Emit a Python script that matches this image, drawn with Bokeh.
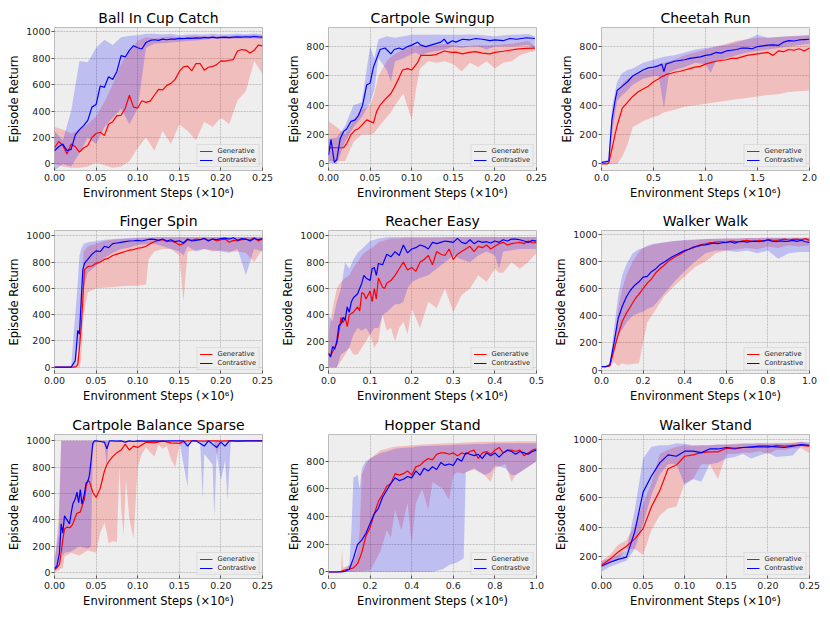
from bokeh.plotting import figure
from bokeh.layouts import gridplot
from bokeh.models import Range1d, FixedTicker, PrintfTickFormatter, Legend, LegendItem
from bokeh.embed import file_html
from bokeh.resources import INLINE

FONT = "DejaVu Sans"
GEN_COLOR = "#ff0000"
CON_COLOR = "#0000ff"
XLABEL = "Environment Steps (\u00d710\u2076)"
YLABEL = "Episode Return"

# ---------------- Ball In Cup Catch ----------------
BIC_X = [0.0, 0.005, 0.01, 0.015, 0.02, 0.025, 0.03, 0.035, 0.04, 0.045, 0.05, 0.055, 0.06, 0.065, 0.07,
         0.075, 0.08, 0.085, 0.09, 0.095, 0.1, 0.105, 0.11, 0.115, 0.12, 0.125, 0.13, 0.135, 0.14, 0.145,
         0.15, 0.155, 0.16, 0.165, 0.17, 0.175, 0.18, 0.185, 0.19, 0.195, 0.2, 0.205, 0.21, 0.215, 0.22,
         0.225, 0.23, 0.235, 0.24, 0.245, 0.25]
BIC_CON = [100, 130, 150, 100, 110, 220, 260, 290, 330, 430, 450, 590, 580, 660, 640, 700, 820, 810, 860, 895,
           880, 870, 920, 935, 940, 935, 945, 940, 945, 945, 950, 948, 952, 950, 955, 953, 958, 955, 960, 955,
           958, 960, 957, 960, 962, 960, 963, 960, 965, 962, 960]
BIC_GEN = [120, 170, 140, 75, 150, 130, 90, 120, 140, 200, 230, 240, 214, 300, 320, 365, 368, 420, 520, 430,
           423, 478, 466, 475, 520, 565, 560, 595, 610, 640, 700, 735, 740, 705, 760, 760, 710, 732, 738, 752,
           780, 778, 785, 790, 855, 866, 862, 840, 860, 900, 894]
BIC_BX = [0.0, 0.01, 0.02, 0.03, 0.04, 0.05, 0.06, 0.07, 0.08, 0.09, 0.1, 0.11, 0.12, 0.13, 0.14, 0.15, 0.16,
          0.17, 0.18, 0.19, 0.2, 0.21, 0.22, 0.23, 0.24, 0.25]
BIC_GEN_LO = [0, -20, -30, -30, -20, 10, -10, -30, -20, 20, 120, 200, 100, 250, 150, 300, 250, 180, 320, 280,
              350, 300, 480, 550, 780, 680]
BIC_GEN_HI = [280, 260, 230, 260, 300, 360, 470, 600, 760, 850, 930, 960, 950, 960, 965, 960, 965, 970, 965,
              970, 968, 970, 972, 975, 978, 970]
BIC_CON_LO = [-50, 0, -20, 80, 200, 150, 280, 350, 420, 300, 420, 880, 910, 915, 920, 925, 930, 935, 940, 945,
              945, 945, 950, 950, 950, 945]
BIC_CON_HI = [250, 180, 400, 780, 770, 880, 940, 900, 960, 970, 975, 985, 985, 980, 985, 975, 980, 982, 980,
              985, 980, 982, 985, 982, 988, 982]

# ---------------- Cartpole Swingup ----------------
CSU_X = [0.0, 0.003, 0.007, 0.01, 0.014, 0.018, 0.022, 0.027, 0.032, 0.036, 0.041, 0.046, 0.05, 0.054, 0.058,
         0.062, 0.068, 0.075, 0.079, 0.085, 0.089, 0.095, 0.1, 0.107, 0.111, 0.117, 0.123, 0.129, 0.135, 0.139,
         0.143, 0.149, 0.153, 0.161, 0.169, 0.177, 0.185, 0.194, 0.2, 0.21, 0.218, 0.226, 0.238, 0.248]
CSU_CON = [60, 165, 10, 30, 170, 220, 240, 290, 300, 330, 400, 540, 550, 660, 720, 780, 790, 750, 780, 790,
           780, 800, 810, 830, 810, 800, 810, 820, 830, 850, 820, 840, 830, 850, 845, 855, 850, 840, 845, 840,
           855, 850, 860, 855]
CSU_GEN = [110, 110, 110, 110, 110, 110, 140, 200, 230, 240, 270, 300, 290, 280, 360, 400, 440, 480, 520, 590,
           640, 650, 640, 690, 740, 740, 740, 745, 760, 770, 765, 760, 762, 750, 760, 765, 755, 750, 760, 768,
           775, 782, 788, 790]
CSU_BX = [0.0, 0.01, 0.02, 0.03, 0.04, 0.05, 0.055, 0.06, 0.07, 0.075, 0.08, 0.09, 0.1, 0.105, 0.11, 0.12,
          0.13, 0.14, 0.15, 0.16, 0.17, 0.18, 0.19, 0.2, 0.21, 0.22, 0.23, 0.24, 0.248]
CSU_GEN_LO = [20, 20, 20, 150, 200, 200, 210, 250, 320, 350, 400, 480, 300, 500, 650, 700, 690, 700, 680, 630,
              690, 660, 700, 650, 690, 700, 740, 760, 770]
CSU_GEN_HI = [290, 250, 200, 300, 370, 400, 480, 600, 700, 730, 750, 780, 800, 800, 810, 800, 810, 820, 810,
              800, 805, 810, 808, 810, 815, 820, 830, 840, 800]
CSU_CON_LO = [10, 0, 150, 250, 320, 420, 500, 720, 640, 560, 700, 720, 750, 760, 740, 760, 770, 780, 800, 790,
              800, 800, 780, 800, 800, 800, 805, 810, 780]
CSU_CON_HI = [170, 180, 260, 400, 420, 800, 720, 850, 870, 865, 860, 870, 880, 880, 880, 880, 882, 880, 880,
              880, 882, 880, 875, 870, 878, 880, 882, 885, 870]

# ---------------- Cheetah Run ----------------
CR_X = [0.0, 0.05, 0.07, 0.1, 0.13, 0.15, 0.2, 0.25, 0.3, 0.35, 0.4, 0.45, 0.5, 0.55, 0.58, 0.6, 0.62, 0.66,
        0.7, 0.75, 0.8, 0.85, 0.9, 0.95, 1.0, 1.05, 1.1, 1.15, 1.2, 1.25, 1.3, 1.35, 1.4, 1.45, 1.5, 1.55, 1.6,
        1.65, 1.7, 1.75, 1.8, 1.85, 1.9, 1.95, 2.0]
CR_CON = [10, 15, 20, 300, 430, 500, 530, 560, 600, 620, 640, 655, 660, 670, 680, 630, 680, 690, 700, 705, 710,
          720, 725, 730, 740, 745, 760, 755, 770, 775, 780, 790, 790, 785, 800, 805, 810, 812, 808, 830, 840,
          838, 845, 848, 850]
CR_GEN = [0, 0, 5, 100, 200, 260, 380, 420, 460, 490, 510, 530, 560, 580, 595, 600, 610, 615, 625, 630, 640,
          650, 660, 665, 680, 690, 700, 705, 710, 720, 720, 730, 740, 745, 750, 755, 760, 740, 770, 765, 780,
          775, 785, 770, 790]
CR_BX = [0.0, 0.07, 0.1, 0.15, 0.2, 0.25, 0.3, 0.4, 0.5, 0.55, 0.6, 0.65, 0.7, 0.8, 0.9, 1.0, 1.05, 1.1, 1.2,
         1.3, 1.4, 1.5, 1.6, 1.7, 1.8, 1.9, 2.0]
CR_GEN_LO = [0, 0, 0, 0, 50, 130, 250, 290, 320, 330, 350, 360, 370, 390, 400, 410, 415, 420, 430, 440, 450,
             460, 470, 475, 490, 495, 500]
CR_GEN_HI = [5, 10, 300, 480, 550, 580, 600, 630, 650, 670, 690, 700, 710, 740, 760, 780, 790, 800, 820, 840,
             850, 860, 860, 865, 870, 875, 880]
CR_CON_LO = [5, 10, 200, 430, 470, 500, 540, 580, 600, 600, 380, 620, 640, 660, 690, 680, 620, 700, 720, 740,
             760, 770, 780, 790, 800, 810, 820]
CR_CON_HI = [15, 30, 380, 560, 620, 640, 650, 690, 710, 720, 730, 735, 740, 760, 780, 790, 795, 800, 810, 830,
             850, 880, 860, 865, 870, 872, 875]

# ---------------- Finger Spin ----------------
FS_X = [0.0, 0.01, 0.02, 0.025, 0.028, 0.03, 0.032, 0.034, 0.036, 0.04, 0.045, 0.05, 0.055, 0.06, 0.065, 0.07,
        0.075, 0.08, 0.085, 0.09, 0.095, 0.1, 0.105, 0.11, 0.115, 0.12, 0.125, 0.13, 0.135, 0.14, 0.145, 0.15,
        0.155, 0.16, 0.165, 0.17, 0.175, 0.18, 0.185, 0.19, 0.195, 0.2, 0.205, 0.21, 0.215, 0.22, 0.225, 0.23,
        0.235, 0.24, 0.245, 0.25]
FS_CON = [0, 0, 0, 50, 280, 250, 500, 740, 790, 820, 860, 885, 880, 920, 910, 940, 945, 950, 955, 960, 962,
          965, 960, 968, 975, 972, 965, 975, 960, 970, 955, 962, 945, 975, 960, 965, 970, 980, 960, 975, 970,
          978, 982, 975, 985, 965, 978, 975, 960, 980, 970, 978]
FS_GEN = [0, 0, 0, 0, 20, 150, 300, 500, 740, 765, 770, 790, 800, 820, 830, 850, 860, 870, 880, 890, 895, 905,
          910, 920, 940, 955, 965, 970, 955, 960, 950, 930, 940, 970, 965, 975, 970, 980, 965, 975, 960, 970,
          975, 950, 965, 960, 970, 975, 968, 985, 960, 975]
FS_BX = [0.0, 0.02, 0.025, 0.028, 0.03, 0.032, 0.035, 0.04, 0.05, 0.06, 0.07, 0.08, 0.09, 0.1, 0.11, 0.113,
         0.12, 0.13, 0.14, 0.15, 0.155, 0.16, 0.17, 0.18, 0.19, 0.2, 0.21, 0.22, 0.23, 0.24, 0.25]
FS_GEN_LO = [0, 0, 0, 0, 0, 50, 400, 570, 600, 605, 610, 615, 620, 620, 630, 820, 880, 900, 900, 850, 500, 880,
             890, 900, 880, 890, 880, 880, 870, 800, 900]
FS_GEN_HI = [0, 0, 0, 100, 300, 500, 880, 920, 940, 960, 970, 975, 980, 985, 988, 988, 990, 990, 990, 990, 990,
             990, 990, 990, 990, 990, 990, 990, 990, 990, 990]
FS_CON_LO = [0, 0, 0, 150, 200, 400, 600, 720, 770, 830, 870, 900, 910, 930, 935, 935, 940, 920, 900, 880, 850,
             920, 880, 900, 890, 880, 870, 900, 700, 900, 880]
FS_CON_HI = [0, 0, 400, 650, 850, 900, 940, 950, 960, 970, 975, 980, 982, 985, 985, 985, 988, 988, 988, 988,
             988, 988, 988, 990, 990, 990, 990, 990, 990, 990, 990]

# ---------------- Reacher Easy ----------------
RE_X = [0.0, 0.005, 0.01, 0.015, 0.02, 0.025, 0.03, 0.035, 0.04, 0.045, 0.05, 0.055, 0.06, 0.07, 0.075, 0.08,
        0.085, 0.09, 0.1, 0.105, 0.11, 0.115, 0.12, 0.13, 0.135, 0.14, 0.15, 0.16, 0.17, 0.18, 0.19, 0.2, 0.21,
        0.22, 0.23, 0.24, 0.25, 0.26, 0.27, 0.28, 0.29, 0.3, 0.31, 0.32, 0.33, 0.34, 0.35, 0.36, 0.37, 0.38,
        0.39, 0.4, 0.41, 0.42, 0.43, 0.44, 0.45, 0.46, 0.47, 0.48, 0.49, 0.5]
RE_CON = [110, 80, 160, 140, 200, 320, 330, 380, 360, 460, 420, 500, 530, 560, 600, 640, 700, 680, 660, 750,
          760, 700, 790, 780, 820, 860, 840, 880, 850, 930, 870, 900, 910, 930, 920, 900, 950, 940, 950, 960,
          955, 950, 980, 950, 940, 970, 940, 960, 950, 955, 945, 960, 950, 970, 960, 975, 975, 970, 960, 950,
          965, 960]
RE_GEN = [100, 90, 120, 150, 180, 270, 380, 340, 380, 310, 400, 410, 420, 460, 430, 570, 560, 520, 580, 500,
          600, 520, 680, 610, 600, 640, 660, 700, 750, 800, 740, 760, 730, 800, 820, 850, 780, 880, 860, 850,
          900, 820, 860, 880, 900, 920, 880, 920, 910, 930, 900, 920, 940, 950, 930, 940, 945, 950, 940, 960,
          945, 950]
RE_BX = [0.0, 0.01, 0.02, 0.03, 0.04, 0.05, 0.06, 0.07, 0.08, 0.09, 0.1, 0.11, 0.12, 0.13, 0.14, 0.15, 0.16,
         0.17, 0.18, 0.19, 0.2, 0.22, 0.24, 0.26, 0.28, 0.3, 0.32, 0.34, 0.36, 0.38, 0.4, 0.41, 0.42, 0.44,
         0.46, 0.48, 0.5]
RE_GEN_LO = [0, 0, 0, 50, 100, 150, 100, 100, 150, 200, 250, 150, 200, 400, 280, 300, 200, 300, 350, 250, 450,
             300, 500, 450, 600, 420, 550, 600, 700, 650, 750, 720, 720, 800, 750, 800, 870]
RE_GEN_HI = [250, 450, 600, 650, 680, 700, 760, 800, 850, 880, 900, 920, 950, 960, 970, 980, 980, 980, 985,
             985, 985, 985, 985, 985, 988, 988, 988, 988, 988, 990, 990, 990, 990, 990, 990, 990, 990]
RE_CON_LO = [0, 0, 0, 100, 120, 150, 250, 300, 280, 300, 250, 300, 300, 400, 420, 450, 480, 480, 500, 600,
             650, 680, 700, 750, 800, 850, 820, 800, 850, 880, 850, 750, 880, 890, 900, 900, 900]
RE_CON_HI = [400, 350, 500, 600, 800, 750, 820, 870, 900, 930, 960, 970, 980, 985, 988, 990, 990, 990, 990,
             990, 990, 990, 990, 990, 990, 990, 990, 990, 990, 990, 990, 990, 990, 990, 990, 990, 990]

# ---------------- Walker Walk ----------------
WW_X = [0.0, 0.02, 0.04, 0.06, 0.08, 0.1, 0.12, 0.14, 0.16, 0.18, 0.2, 0.22, 0.24, 0.26, 0.28, 0.3, 0.32,
        0.34, 0.36, 0.38, 0.4, 0.42, 0.44, 0.46, 0.48, 0.5, 0.52, 0.54, 0.56, 0.58, 0.6, 0.62, 0.64, 0.66,
        0.68, 0.7, 0.72, 0.74, 0.76, 0.78, 0.8, 0.82, 0.84, 0.86, 0.88, 0.9, 0.92, 0.94, 0.96, 0.98, 1.0]
WW_CON = [25, 25, 40, 200, 380, 470, 540, 590, 625, 650, 685, 690, 725, 745, 775, 795, 815, 835, 850, 865, 880,
          890, 905, 910, 920, 922, 930, 935, 932, 938, 940, 945, 935, 945, 948, 943, 948, 950, 945, 952, 958,
          950, 945, 952, 948, 950, 955, 948, 956, 945, 940]
WW_GEN = [25, 25, 30, 150, 260, 360, 420, 470, 520, 560, 600, 640, 670, 715, 745, 770, 800, 820, 840, 855, 875,
          890, 900, 915, 925, 930, 938, 940, 945, 945, 940, 950, 948, 945, 952, 955, 950, 948, 955, 950, 962,
          958, 955, 960, 965, 958, 962, 965, 960, 968, 955]
WW_BX = [0.0, 0.04, 0.06, 0.08, 0.1, 0.12, 0.15, 0.18, 0.2, 0.22, 0.25, 0.3, 0.35, 0.4, 0.45, 0.5, 0.55, 0.6,
         0.65, 0.7, 0.75, 0.8, 0.85, 0.9, 0.95, 1.0]
WW_GEN_LO = [25, 25, 60, 30, 50, 40, 45, 50, 200, 350, 420, 540, 620, 690, 760, 800, 860, 880, 890, 900, 890,
             910, 900, 920, 910, 920]
WW_GEN_HI = [25, 30, 200, 450, 600, 700, 800, 870, 900, 910, 925, 940, 950, 955, 960, 965, 968, 970, 970, 972,
             972, 975, 975, 975, 975, 975]
WW_CON_LO = [25, 25, 120, 250, 300, 350, 400, 420, 430, 450, 470, 560, 650, 730, 800, 860, 880, 880, 870, 880,
             860, 880, 820, 860, 870, 870]
WW_CON_HI = [25, 40, 300, 550, 700, 780, 860, 890, 900, 915, 930, 940, 950, 958, 962, 965, 968, 970, 970, 972,
             972, 975, 975, 975, 975, 975]

# ---------------- Cartpole Balance Sparse ----------------
CBS_X = [0.0, 0.003, 0.006, 0.008, 0.01, 0.012, 0.015, 0.018, 0.02, 0.022, 0.025, 0.027, 0.029, 0.031, 0.033,
         0.036, 0.038, 0.04, 0.042, 0.044, 0.046, 0.048, 0.05, 0.055, 0.06, 0.063, 0.066, 0.07, 0.075, 0.08,
         0.085, 0.09, 0.095, 0.1, 0.11, 0.12, 0.13, 0.14, 0.15, 0.155, 0.16, 0.165, 0.17, 0.18, 0.185, 0.19,
         0.195, 0.2, 0.205, 0.21, 0.215, 0.22, 0.23, 0.24, 0.25]
CBS_CON = [30, 50, 150, 370, 300, 430, 400, 370, 450, 520, 560, 610, 530, 630, 520, 600, 680, 690, 740, 850,
           980, 1000, 1000, 995, 990, 940, 1000, 1000, 998, 1000, 990, 1000, 995, 1000, 998, 1000, 998, 1000,
           1000, 1000, 960, 1000, 1000, 960, 1000, 975, 950, 990, 960, 1000, 1000, 1000, 1000, 1000, 1000]
CBS_GEN = [20, 40, 60, 150, 250, 330, 345, 340, 350, 370, 420, 450, 455, 460, 500, 560, 650, 700, 690, 650,
           610, 590, 570, 640, 770, 820, 850, 880, 910, 930, 975, 930, 960, 950, 990, 985, 1000, 985, 980, 995,
           1000, 1000, 1000, 998, 1000, 1000, 1000, 998, 1000, 1000, 1000, 995, 1000, 1000, 1000]
CBS_BX = [0.0, 0.005, 0.008, 0.01, 0.012, 0.02, 0.03, 0.04, 0.044, 0.046, 0.05, 0.055, 0.06, 0.063, 0.065,
          0.07, 0.075, 0.078, 0.08, 0.083, 0.086, 0.09, 0.095, 0.1, 0.105, 0.11, 0.12, 0.125, 0.13, 0.135, 0.14,
          0.145, 0.15, 0.16, 0.162, 0.175, 0.178, 0.18, 0.19, 0.192, 0.195, 0.2, 0.205, 0.208, 0.212, 0.25]
CBS_GEN_LO = [0, 20, 30, 30, 120, 150, 130, 170, 160, 160, 150, 300, 380, 300, 220, 240, 230, 800, 500, 280,
              700, 400, 260, 800, 900, 950, 880, 970, 940, 960, 860, 800, 960, 1000, 1000, 1000, 1000, 1000,
              1000, 1000, 900, 1000, 1000, 1000, 1000, 1000]
CBS_GEN_HI = [60, 400, 1000, 1000, 1000, 1000, 1000, 1000, 1000, 1000, 1000, 1000, 1000, 1000, 1000, 1000,
              1000, 1000, 1000, 1000, 1000, 1000, 1000, 1000, 1000, 1000, 1000, 1000, 1000, 1000, 1000, 1000,
              1000, 1000, 1000, 1000, 1000, 1000, 1000, 1000, 1000, 1000, 1000, 1000, 1000, 1000]
CBS_CON_LO = [20, 30, 200, 120, 150, 160, 200, 180, 200, 950, 1000, 995, 980, 800, 1000, 1000, 1000, 1000,
              1000, 1000, 1000, 1000, 1000, 1000, 1000, 1000, 1000, 1000, 1000, 1000, 1000, 1000, 1000, 650,
              1000, 1000, 560, 900, 820, 420, 900, 700, 850, 550, 1000, 1000]
CBS_CON_HI = [100, 300, 1000, 1000, 1000, 1000, 1000, 1000, 1000, 1000, 1000, 1000, 1000, 1000, 1000, 1000,
              1000, 1000, 1000, 1000, 1000, 1000, 1000, 1000, 1000, 1000, 1000, 1000, 1000, 1000, 1000, 1000,
              1000, 1000, 1000, 1000, 1000, 1000, 1000, 1000, 1000, 1000, 1000, 1000, 1000, 1000]

# ---------------- Hopper Stand ----------------
HS_X = [0.0, 0.02, 0.04, 0.06, 0.08, 0.1, 0.12, 0.14, 0.16, 0.18, 0.2, 0.22, 0.24, 0.26, 0.28, 0.3, 0.32,
        0.34, 0.36, 0.38, 0.4, 0.42, 0.44, 0.46, 0.48, 0.5, 0.52, 0.54, 0.56, 0.58, 0.6, 0.62, 0.64, 0.66,
        0.68, 0.7, 0.72, 0.74, 0.76, 0.78, 0.8, 0.82, 0.84, 0.86, 0.88, 0.9, 0.92, 0.94, 0.96, 0.98, 1.0]
HS_CON = [0, 0, 0, 0, 5, 20, 100, 200, 230, 280, 350, 420, 460, 540, 590, 640, 680, 660, 670, 690, 680, 730,
          700, 750, 730, 760, 740, 790, 770, 780, 770, 820, 800, 860, 850, 840, 850, 820, 860, 840, 860, 830,
          860, 880, 870, 850, 870, 860, 850, 870, 880]
HS_GEN = [0, 0, 0, 5, 15, 20, 30, 60, 140, 260, 320, 420, 510, 560, 620, 640, 710, 700, 710, 730, 700, 760,
          770, 800, 820, 810, 850, 860, 860, 850, 860, 840, 860, 850, 870, 880, 820, 860, 870, 850, 880, 900,
          860, 880, 880, 870, 880, 840, 860, 880, 890]
HS_BX = [0.0, 0.06, 0.065, 0.07, 0.1, 0.11, 0.12, 0.14, 0.15, 0.16, 0.18, 0.2, 0.25, 0.28, 0.3, 0.32, 0.35,
         0.38, 0.4, 0.42, 0.45, 0.48, 0.5, 0.55, 0.58, 0.6, 0.62, 0.65, 0.66, 0.7, 0.75, 0.78, 0.8, 0.85, 0.88,
         0.9, 0.95, 1.0]
HS_GEN_LO = [0, 0, 0, 0, 0, 0, 0, 5, 5, 5, 10, 10, 150, 300, 250, 450, 300, 500, 200, 500, 600, 450, 650, 600,
             520, 700, 720, 710, 720, 740, 700, 650, 750, 780, 650, 700, 750, 800]
HS_GEN_HI = [0, 0, 170, 30, 50, 60, 80, 150, 300, 700, 780, 820, 880, 890, 900, 905, 910, 912, 915, 918, 920,
             922, 925, 928, 930, 930, 932, 935, 935, 938, 940, 940, 940, 942, 942, 945, 945, 945]
HS_CON_LO = [0, 0, 0, 0, 0, 0, 0, 0, 0, 0, 0, 0, 0, 0, 0, 0, 0, 0, 0, 0, 0, 0, 0, 20, 50, 60, 70, 100, 720,
             750, 700, 720, 770, 750, 700, 700, 750, 800]
HS_CON_HI = [0, 0, 0, 0, 50, 300, 680, 700, 600, 750, 800, 820, 860, 870, 880, 890, 895, 900, 900, 905, 910,
             910, 912, 915, 915, 918, 920, 920, 920, 925, 925, 928, 930, 930, 930, 930, 930, 930]

# ---------------- Walker Stand ----------------
WS_X = [0.0, 0.01, 0.02, 0.03, 0.04, 0.05, 0.06, 0.07, 0.08, 0.09, 0.1, 0.11, 0.12, 0.13, 0.14, 0.15, 0.16,
        0.17, 0.18, 0.19, 0.2, 0.21, 0.22, 0.23, 0.24, 0.25]
WS_GEN = [140, 180, 230, 270, 320, 390, 540, 650, 800, 825, 885, 895, 910, 915, 915, 940, 935, 945, 945, 950,
          945, 960, 955, 960, 960, 955]
WS_CON = [135, 160, 180, 195, 370, 640, 750, 840, 895, 885, 920, 920, 910, 935, 935, 945, 940, 945, 950, 955,
          955, 950, 945, 955, 965, 960]
WS_GEN_LO = [120, 150, 180, 250, 250, 210, 380, 480, 530, 540, 700, 730, 830, 830, 730, 900, 900, 910, 910,
             920, 900, 930, 930, 940, 940, 905]
WS_GEN_HI = [170, 210, 280, 310, 410, 560, 700, 900, 930, 950, 960, 955, 960, 960, 965, 965, 970, 975, 975,
             975, 970, 975, 975, 980, 985, 975]
WS_CON_LO = [95, 130, 150, 170, 250, 420, 620, 760, 830, 830, 690, 730, 710, 830, 840, 870, 880, 900, 870, 890,
             910, 880, 885, 890, 955, 950]
WS_CON_HI = [165, 190, 210, 240, 520, 870, 950, 960, 960, 975, 970, 960, 960, 960, 965, 965, 965, 970, 970,
             975, 975, 975, 975, 975, 985, 980]

# ---------------- axes ----------------
TICKS_025 = [0.0, 0.05, 0.1, 0.15, 0.2, 0.25]
TICKS_05 = [0.0, 0.1, 0.2, 0.3, 0.4, 0.5]
TICKS_1 = [0.0, 0.2, 0.4, 0.6, 0.8, 1.0]
TICKS_2 = [0.0, 0.5, 1.0, 1.5, 2.0]
Y_1000 = [0, 200, 400, 600, 800, 1000]
Y_800 = [0, 200, 400, 600, 800]
Y_WS = [200, 400, 600, 800, 1000]

PANELS = [
    ("Ball In Cup Catch", BIC_X, BIC_GEN, BIC_CON, BIC_BX, BIC_GEN_LO, BIC_GEN_HI, BIC_CON_LO, BIC_CON_HI,
     (0, 0.25), (-50, 1033), TICKS_025, "%.2f", Y_1000),
    ("Cartpole Swingup", CSU_X, CSU_GEN, CSU_CON, CSU_BX, CSU_GEN_LO, CSU_GEN_HI, CSU_CON_LO, CSU_CON_HI,
     (0, 0.25), (-45, 930), TICKS_025, "%.2f", Y_800),
    ("Cheetah Run", CR_X, CR_GEN, CR_CON, CR_BX, CR_GEN_LO, CR_GEN_HI, CR_CON_LO, CR_CON_HI,
     (0, 2.0), (-45, 930), TICKS_2, "%.1f", Y_800),
    ("Finger Spin", FS_X, FS_GEN, FS_CON, FS_BX, FS_GEN_LO, FS_GEN_HI, FS_CON_LO, FS_CON_HI,
     (0, 0.25), (-48, 1040), TICKS_025, "%.2f", Y_1000),
    ("Reacher Easy", RE_X, RE_GEN, RE_CON, RE_BX, RE_GEN_LO, RE_GEN_HI, RE_CON_LO, RE_CON_HI,
     (0, 0.5), (-45, 1040), TICKS_05, "%.1f", Y_1000),
    ("Walker Walk", WW_X, WW_GEN, WW_CON, WW_BX, WW_GEN_LO, WW_GEN_HI, WW_CON_LO, WW_CON_HI,
     (0, 1.0), (-25, 1028), TICKS_1, "%.1f", Y_1000),
    ("Cartpole Balance Sparse", CBS_X, CBS_GEN, CBS_CON, CBS_BX, CBS_GEN_LO, CBS_GEN_HI, CBS_CON_LO, CBS_CON_HI,
     (0, 0.25), (-45, 1048), TICKS_025, "%.2f", Y_1000),
    ("Hopper Stand", HS_X, HS_GEN, HS_CON, HS_BX, HS_GEN_LO, HS_GEN_HI, HS_CON_LO, HS_CON_HI,
     (0, 1.0), (-47, 993), TICKS_1, "%.1f", Y_800),
    ("Walker Stand", WS_X, WS_GEN, WS_CON, WS_X, WS_GEN_LO, WS_GEN_HI, WS_CON_LO, WS_CON_HI,
     (0, 0.25), (49, 1034), TICKS_025, "%.2f", Y_WS),
]

COL_W = [274, 274, 273]
COL_LEFT = [54, 54, 53]
ROW_H = [206, 203, 209]
ROW_TOP = [27, 24, 25]
ROW_BOTTOM = [36, 36, 40]


def band(p, x, lo, hi, color):
    xs = list(x) + list(x)[::-1]
    ys = list(lo) + list(hi)[::-1]
    p.patch(xs, ys, fill_color=color, fill_alpha=0.2, line_color=None)


def make_panel(i, spec):
    (title, x, gen, con, bx, glo, ghi, clo, chi, xr, yr, xt, xf, yt) = spec
    assert len(x) == len(gen) == len(con), title
    assert len(bx) == len(glo) == len(ghi) == len(clo) == len(chi), title
    r, c = divmod(i, 3)
    p = figure(width=COL_W[c], height=ROW_H[r], x_range=Range1d(*xr), y_range=Range1d(*yr),
               output_backend="svg", toolbar_location=None,
               min_border_left=COL_LEFT[c], min_border_right=12,
               min_border_top=ROW_TOP[r], min_border_bottom=ROW_BOTTOM[r])
    p.title.text = title
    p.title.align = "center"
    p.title.text_font = FONT
    p.title.text_font_size = "14px"
    p.title.text_font_style = "normal"
    p.title.text_color = "black"
    p.title.standoff = 4
    p.background_fill_color = "#eeeeee"
    p.border_fill_color = "white"
    p.outline_line_color = "#bcbcbc"
    p.outline_line_width = 1

    p.xaxis.ticker = FixedTicker(ticks=xt)
    p.xaxis.formatter = PrintfTickFormatter(format=xf)
    p.yaxis.ticker = FixedTicker(ticks=yt)
    p.yaxis.formatter = PrintfTickFormatter(format="%d")
    p.xaxis.axis_label = XLABEL
    p.yaxis.axis_label = YLABEL
    for ax in (p.xaxis[0], p.yaxis[0]):
        ax.axis_line_color = None
        ax.minor_tick_in = 0
        ax.minor_tick_out = 0
        ax.minor_tick_line_color = None
        ax.major_tick_line_color = "#555555"
        ax.major_tick_line_width = 1
        ax.major_label_text_font = FONT
        ax.major_label_text_font_size = "9.5px"
        ax.major_label_text_color = "#222222"
        ax.axis_label_text_font = FONT
        ax.axis_label_text_font_size = "11.5px"
        ax.axis_label_text_font_style = "normal"
        ax.axis_label_text_color = "black"
        ax.axis_label_standoff = 2
    p.yaxis.major_tick_out = 3
    p.yaxis.major_tick_in = 0
    p.yaxis.major_label_standoff = 1
    p.xaxis.major_tick_out = 0
    p.xaxis.major_tick_in = 3
    p.xaxis.major_label_standoff = 3
    for g in (p.xgrid[0], p.ygrid[0]):
        g.grid_line_color = "#b2b2b2"
        g.grid_line_dash = "2 1"
        g.grid_line_width = 0.8

    band(p, bx, glo, ghi, GEN_COLOR)
    band(p, bx, clo, chi, CON_COLOR)
    rg = p.line(x, gen, line_color=GEN_COLOR, line_width=1.2)
    rc = p.line(x, con, line_color=CON_COLOR, line_width=1.2)

    leg = Legend(items=[LegendItem(label="Generative", renderers=[rg]),
                        LegendItem(label="Contrastive", renderers=[rc])],
                 location="bottom_right")
    leg.label_text_font = FONT
    leg.label_text_font_size = "6.7px"
    leg.label_text_color = "#222222"
    leg.glyph_width = 13
    leg.glyph_height = 8
    leg.label_height = 8
    leg.label_standoff = 5
    leg.spacing = 1
    leg.padding = 2
    leg.margin = 3
    leg.border_line_color = "#cccccc"
    leg.border_line_width = 1
    leg.background_fill_color = "#eeeeee"
    leg.background_fill_alpha = 0.8
    p.add_layout(leg)
    return p


figs = [make_panel(i, s) for i, s in enumerate(PANELS)]
grid = gridplot([figs[0:3], figs[3:6], figs[6:9]], toolbar_location=None)

open("out.html", "w").write(file_html(grid, INLINE, "Episode Return"))
